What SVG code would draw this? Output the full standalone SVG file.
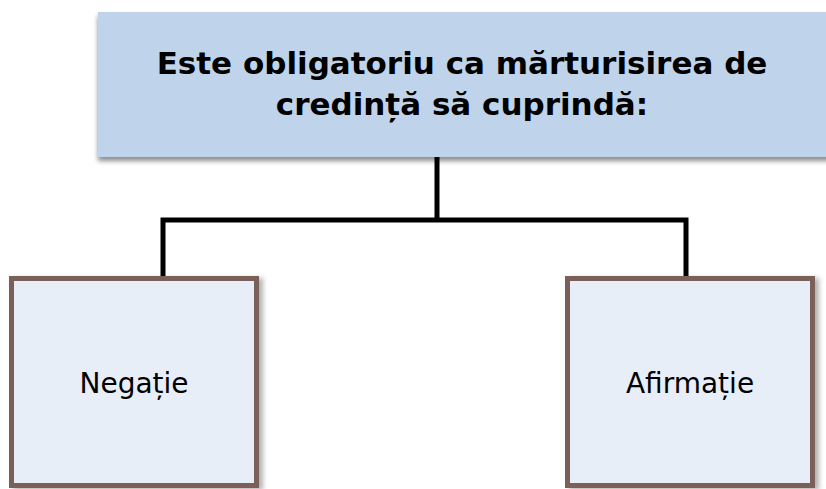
<svg xmlns="http://www.w3.org/2000/svg" width="826" height="489" viewBox="0 0 826 489">
<defs>
<filter id="shTop" x="-5%" y="-10%" width="115%" height="130%">
<feDropShadow dx="0" dy="4" stdDeviation="2.5" flood-color="#000" flood-opacity="0.45"/>
</filter>
<filter id="shBox" x="-10%" y="-10%" width="130%" height="130%">
<feDropShadow dx="4" dy="2" stdDeviation="2.5" flood-color="#000" flood-opacity="0.3"/>
</filter>
<style>
.top{fill:#bfd3ea;}
.child{fill:#e8eef8;stroke:#7a6158;stroke-width:5;}
.conn{fill:none;stroke:#000;stroke-width:5;}
.ttl{font-family:"DejaVu Sans",Verdana,sans-serif;font-weight:bold;font-size:31px;fill:#000;text-anchor:middle;}
.lbl{font-family:"DejaVu Sans",Verdana,sans-serif;font-size:28px;fill:#000;text-anchor:middle;}
</style>
</defs>
<rect width="826" height="489" fill="#fff"/>
<g id="connectors">
<path class="conn" d="M437 157 V220"/>
<path class="conn" d="M163 276 V220 H686 V276"/>
</g>
<g id="node-top">
<rect class="top" x="98" y="12" width="740" height="145" filter="url(#shTop)"/>
<text class="ttl" x="462" y="74">Este obligatoriu ca mărturisirea de</text>
<text class="ttl" x="462" y="115">credință să cuprindă:</text>
</g>
<g id="node-negatie">
<rect class="child" x="11.5" y="278.5" width="245" height="207" filter="url(#shBox)"/>
<text class="lbl" x="134" y="393">Negație</text>
</g>
<g id="node-afirmatie">
<rect class="child" x="567.5" y="278.5" width="245" height="207" filter="url(#shBox)"/>
<text class="lbl" x="690" y="393">Afirmație</text>
</g>
</svg>
